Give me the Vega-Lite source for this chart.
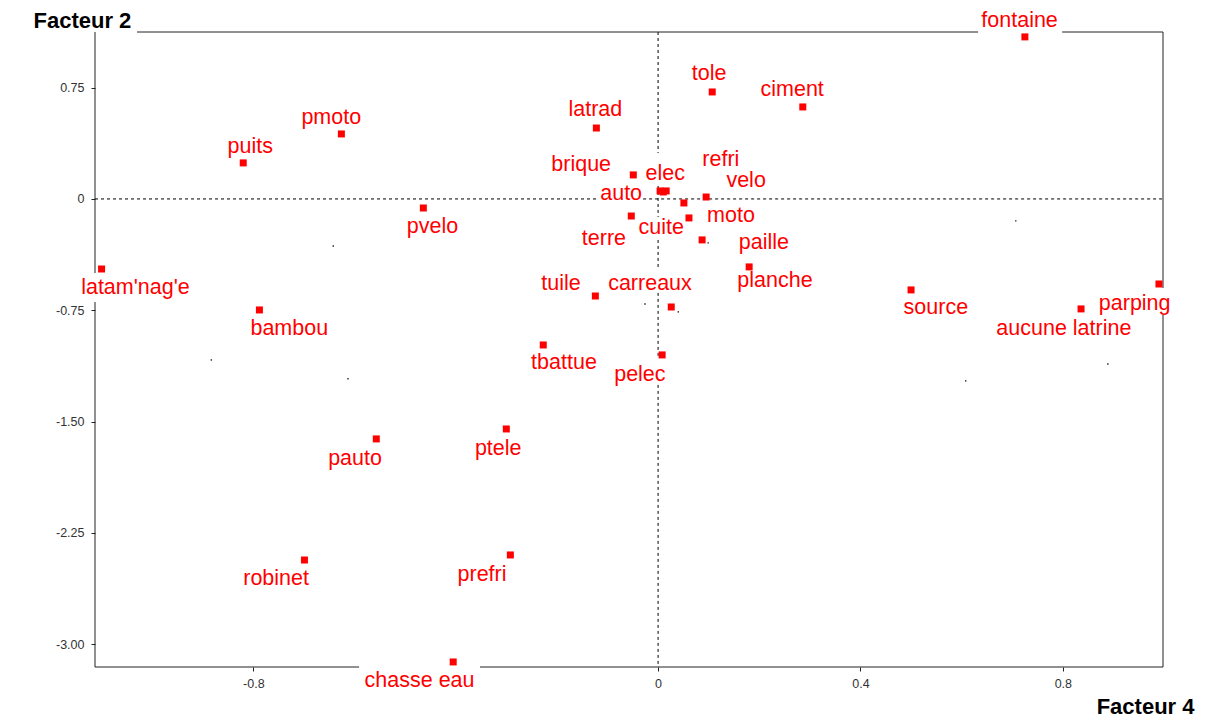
{
  "$schema": "https://vega.github.io/schema/vega-lite/v6.json",
  "width": 1068,
  "height": 635,
  "autosize": "none",
  "padding": {"left": 95, "top": 32, "right": 55, "bottom": 55},
  "background": "white",
  "config": {
    "view": {"stroke": null},
    "font": "Liberation Sans"
  },
  "datasets": {
    "pts": [
      {"name": "fontaine", "x": 0.725, "y": 1.092, "lx": 0.7145, "ly": 1.196},
      {"name": "tole", "x": 0.107, "y": 0.721, "lx": 0.101, "ly": 0.842},
      {"name": "ciment", "x": 0.286, "y": 0.620, "lx": 0.265, "ly": 0.735},
      {"name": "latrad", "x": -0.122, "y": 0.478, "lx": -0.124, "ly": 0.600},
      {"name": "pmoto", "x": -0.626, "y": 0.438, "lx": -0.646, "ly": 0.546},
      {"name": "puits", "x": -0.820, "y": 0.243, "lx": -0.806, "ly": 0.350},
      {"name": "brique", "x": -0.049, "y": 0.162, "lx": -0.152, "ly": 0.229},
      {"name": "elec", "x": 0.016, "y": 0.054, "lx": 0.014, "ly": 0.168},
      {"name": "auto", "x": 0.004, "y": 0.054, "lx": -0.073, "ly": 0.034},
      {"name": "cuite", "x": 0.010, "y": 0.047, "lx": 0.006, "ly": -0.195},
      {"name": "refri", "x": 0.051, "y": -0.027, "lx": 0.124, "ly": 0.263},
      {"name": "velo", "x": 0.095, "y": 0.013, "lx": 0.174, "ly": 0.121},
      {"name": "moto", "x": 0.061, "y": -0.128, "lx": 0.144, "ly": -0.115},
      {"name": "terre", "x": -0.053, "y": -0.115, "lx": -0.107, "ly": -0.270},
      {"name": "paille", "x": 0.087, "y": -0.276, "lx": 0.209, "ly": -0.296},
      {"name": "planche", "x": 0.180, "y": -0.458, "lx": 0.231, "ly": -0.553},
      {"name": "tuile", "x": -0.124, "y": -0.654, "lx": -0.192, "ly": -0.573},
      {"name": "carreaux", "x": 0.026, "y": -0.728, "lx": -0.016, "ly": -0.573},
      {"name": "pvelo", "x": -0.464, "y": -0.061, "lx": -0.446, "ly": -0.189},
      {"name": "latam'nag'e", "x": -1.100, "y": -0.472, "lx": -1.033, "ly": -0.603},
      {"name": "bambou", "x": -0.788, "y": -0.748, "lx": -0.729, "ly": -0.876},
      {"name": "source", "x": 0.500, "y": -0.613, "lx": 0.549, "ly": -0.735},
      {"name": "parping", "x": 0.990, "y": -0.573, "lx": 0.942, "ly": -0.708},
      {"name": "aucune latrine", "x": 0.836, "y": -0.741, "lx": 0.802, "ly": -0.876},
      {"name": "tbattue", "x": -0.227, "y": -0.984, "lx": -0.186, "ly": -1.105},
      {"name": "pelec", "x": 0.008, "y": -1.051, "lx": -0.036, "ly": -1.186},
      {"name": "ptele", "x": -0.300, "y": -1.550, "lx": -0.316, "ly": -1.685},
      {"name": "pauto", "x": -0.557, "y": -1.617, "lx": -0.599, "ly": -1.752},
      {"name": "robinet", "x": -0.699, "y": -2.433, "lx": -0.755, "ly": -2.561},
      {"name": "prefri", "x": -0.292, "y": -2.399, "lx": -0.348, "ly": -2.534},
      {"name": "chasse eau", "x": -0.405, "y": -3.120, "lx": -0.4715, "ly": -3.245}
    ],
    "specks": [
      {"x": -0.642, "y": -0.317},
      {"x": -0.883, "y": -1.085},
      {"x": -0.613, "y": -1.212},
      {"x": 0.707, "y": -0.148},
      {"x": 0.608, "y": -1.226},
      {"x": 0.889, "y": -1.112},
      {"x": 0.040, "y": -0.761},
      {"x": -0.026, "y": -0.708},
      {"x": 0.099, "y": -0.296}
    ],
    "one": [{}]
  },
  "layer": [
    {
      "data": {"name": "one"},
      "mark": {"type": "rule", "color": "black", "strokeWidth": 1, "strokeDash": [3, 3]},
      "encoding": {
        "y": {
          "datum": 0,
          "type": "quantitative",
          "scale": {"domain": [-3.154, 1.125], "nice": false, "zero": false},
          "axis": {
            "values": [0.75, 0, -0.75, -1.5, -2.25, -3],
            "labelExpr": "datum.value == 0 ? '0' : replace(format(datum.value, '.2f'), '\u2212', '-')",
            "grid": false,
            "domain": false,
            "tickColor": "#222222",
            "tickSize": 4,
            "labelPadding": 7,
            "labelFont": "Liberation Sans",
            "labelFontSize": 12.5,
            "labelColor": "#333333",
            "title": "Facteur 2",
            "titleAngle": 0,
            "titleAlign": "left",
            "titleBaseline": "alphabetic",
            "titleX": -62,
            "titleY": -5,
            "titleFont": "Liberation Sans",
            "titleFontSize": 22,
            "titleFontWeight": "bold",
            "titleColor": "black"
          }
        },
        "x": {
          "datum": -1.113,
          "type": "quantitative",
          "scale": {"domain": [-1.113, 0.998], "nice": false, "zero": false},
          "axis": {
            "values": [-0.8, 0, 0.4, 0.8],
            "labelExpr": "datum.value == 0 ? '0' : replace(format(datum.value, '.1f'), '\u2212', '-')",
            "grid": false,
            "domain": false,
            "tickColor": "#222222",
            "tickSize": 4,
            "labelPadding": 6,
            "labelFont": "Liberation Sans",
            "labelFontSize": 12.5,
            "labelColor": "#333333",
            "title": "Facteur 4",
            "titleAlign": "right",
            "titleBaseline": "alphabetic",
            "titleX": 1099,
            "titleY": 46,
            "titleFont": "Liberation Sans",
            "titleFontSize": 22,
            "titleFontWeight": "bold",
            "titleColor": "black"
          }
        },
        "x2": {"datum": -0.1186}
      }
    },
    {
      "data": {"name": "one"},
      "mark": {"type": "rule", "color": "black", "strokeWidth": 1, "strokeDash": [3, 3]},
      "encoding": {"y": {"datum": 0, "type": "quantitative"}, "x": {"datum": -0.0296, "type": "quantitative"}, "x2": {"datum": 0.998}}
    },
    {
      "data": {"name": "one"},
      "mark": {"type": "rule", "color": "black", "strokeWidth": 1, "strokeDash": [3, 3]},
      "encoding": {"x": {"datum": 0, "type": "quantitative"}, "y": {"datum": 1.125, "type": "quantitative"}, "y2": {"datum": 0.31}}
    },
    {
      "data": {"name": "one"},
      "mark": {"type": "rule", "color": "black", "strokeWidth": 1, "strokeDash": [3, 3]},
      "encoding": {"x": {"datum": 0, "type": "quantitative"}, "y": {"datum": 0.0876, "type": "quantitative"}, "y2": {"datum": -0.1213}}
    },
    {
      "data": {"name": "one"},
      "mark": {"type": "rule", "color": "black", "strokeWidth": 1, "strokeDash": [3, 3]},
      "encoding": {"x": {"datum": 0, "type": "quantitative"}, "y": {"datum": -0.2763, "type": "quantitative"}, "y2": {"datum": -0.465}}
    },
    {
      "data": {"name": "one"},
      "mark": {"type": "rule", "color": "black", "strokeWidth": 1, "strokeDash": [3, 3]},
      "encoding": {"x": {"datum": 0, "type": "quantitative"}, "y": {"datum": -0.633, "type": "quantitative"}, "y2": {"datum": -1.071}}
    },
    {
      "data": {"name": "one"},
      "mark": {"type": "rule", "color": "black", "strokeWidth": 1, "strokeDash": [3, 3]},
      "encoding": {"x": {"datum": 0, "type": "quantitative"}, "y": {"datum": -1.253, "type": "quantitative"}, "y2": {"datum": -3.154}}
    },
    {
      "data": {"name": "one"},
      "mark": {"type": "rule", "color": "#222222", "strokeWidth": 1},
      "encoding": {"y": {"datum": 1.125, "type": "quantitative"}, "x": {"datum": -1.03, "type": "quantitative"}, "x2": {"datum": 0.6325}}
    },
    {
      "data": {"name": "one"},
      "mark": {"type": "rule", "color": "#222222", "strokeWidth": 1},
      "encoding": {"y": {"datum": 1.125, "type": "quantitative"}, "x": {"datum": 0.7986, "type": "quantitative"}, "x2": {"datum": 0.998}}
    },
    {
      "data": {"name": "one"},
      "mark": {"type": "rule", "color": "#222222", "strokeWidth": 1},
      "encoding": {"y": {"datum": -3.154, "type": "quantitative"}, "x": {"datum": -1.113, "type": "quantitative"}, "x2": {"datum": -0.591}}
    },
    {
      "data": {"name": "one"},
      "mark": {"type": "rule", "color": "#222222", "strokeWidth": 1},
      "encoding": {"y": {"datum": -3.154, "type": "quantitative"}, "x": {"datum": -0.352, "type": "quantitative"}, "x2": {"datum": 0.998}}
    },
    {
      "data": {"name": "one"},
      "mark": {"type": "rule", "color": "#222222", "strokeWidth": 1},
      "encoding": {"x": {"datum": -1.113, "type": "quantitative"}, "y": {"datum": 1.125, "type": "quantitative"}, "y2": {"datum": -0.499}}
    },
    {
      "data": {"name": "one"},
      "mark": {"type": "rule", "color": "#222222", "strokeWidth": 1},
      "encoding": {"x": {"datum": -1.113, "type": "quantitative"}, "y": {"datum": -0.694, "type": "quantitative"}, "y2": {"datum": -3.154}}
    },
    {
      "data": {"name": "one"},
      "mark": {"type": "rule", "color": "#222222", "strokeWidth": 1},
      "encoding": {"x": {"datum": 0.998, "type": "quantitative"}, "y": {"datum": 1.125, "type": "quantitative"}, "y2": {"datum": -0.6}}
    },
    {
      "data": {"name": "one"},
      "mark": {"type": "rule", "color": "#222222", "strokeWidth": 1},
      "encoding": {"x": {"datum": 0.998, "type": "quantitative"}, "y": {"datum": -0.782, "type": "quantitative"}, "y2": {"datum": -3.154}}
    },
    {
      "data": {"name": "specks"},
      "mark": {"type": "square", "color": "#222222", "size": 2, "opacity": 1},
      "encoding": {
        "x": {"field": "x", "type": "quantitative"},
        "y": {"field": "y", "type": "quantitative"}
      }
    },
    {
      "data": {"name": "pts"},
      "mark": {"type": "square", "color": "#ff0000", "size": 49, "opacity": 1},
      "encoding": {
        "x": {"field": "x", "type": "quantitative"},
        "y": {"field": "y", "type": "quantitative"}
      }
    },
    {
      "data": {"name": "pts"},
      "mark": {"type": "text", "font": "Liberation Sans", "fontSize": 21.5, "align": "center", "baseline": "middle", "color": "#ff0000"},
      "encoding": {
        "x": {"field": "lx", "type": "quantitative"},
        "y": {"field": "ly", "type": "quantitative"},
        "text": {"field": "name"}
      }
    }
  ]
}
